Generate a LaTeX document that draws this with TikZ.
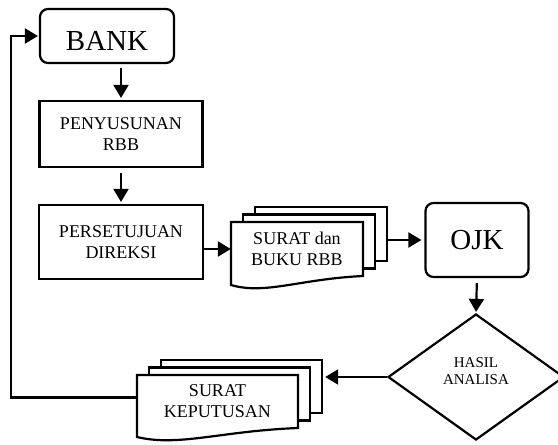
\documentclass[tikz,border=0pt]{standalone}
\usepackage{fontspec}
\setmainfont{Liberation Serif}
\usetikzlibrary{arrows.meta,shapes.geometric}

\tikzset{
    box/.style={draw, black, line width=2.2pt, inner sep=0pt, align=center,
        font=\fontsize{18}{21}\selectfont},
    bigbox/.style={box, rounded corners=8pt, font=\fontsize{29}{34}\selectfont},
    decide/.style={draw, black, line width=2.2pt, shape=diamond, inner sep=0pt,
        align=center, font=\fontsize{15}{17}\selectfont},
    doc/.style={inner sep=0pt, align=center, font=\fontsize{18}{21}\selectfont},
    page/.style={draw, black, fill=white, line width=2.2pt},
    arr/.style={black, line width=2.2pt, -{Triangle[length=13pt,width=15pt]}},
}

% three pages behind a document, centre #1, width #2, height #3
\newcommand{\pagestack}[3]{%
    \foreach \k in {2,1}
        \draw[page] ([shift={(-#2/2+12*\k,-#3/2-7.5*\k)}]#1) rectangle ++(#2,#3);
    \draw[page] ([shift={(-#2/2,-#3/2)}]#1) -- ([shift={(#2/2,-#3/2)}]#1)
        -- ([shift={(#2/2,#3/2)}]#1)
        .. controls ([shift={(0.02*#2,#3/2+3)}]#1) and ([shift={(-0.24*#2,#3/2+19)}]#1)
        .. ([shift={(-#2/2,#3/2+9)}]#1) -- cycle;
}

\begin{document}
\begin{tikzpicture}[x=1pt, y=-1pt]

    \useasboundingbox (0,0) rectangle (558,445);

    % Bank and its first two steps
    \node[bigbox, minimum width=134pt, minimum height=54pt, text height=30pt] (bank) at (107,36) {BANK};
    \node[box, minimum width=163pt, minimum height=66pt] (peny) at (121,134) {PENYUSUNAN\\RBB};
    \node[box, minimum width=164pt, minimum height=74pt] (pers) at (121,242) {PERSETUJUAN\\DIREKSI};

    % Letter and RBB book sent on
    \coordinate (sdbc) at (297,249);
    \pagestack{sdbc}{132}{54}
    \node[doc, minimum width=132pt, minimum height=54pt] (sdb) at (sdbc) {SURAT dan\\BUKU RBB};
    \coordinate (sdbr) at ([xshift=24pt]sdb.east);

    % OJK and its analysis
    \node[bigbox, minimum width=103pt, minimum height=74pt] (ojk) at (477,240) {OJK};
    \node[decide, minimum width=176pt, minimum height=126pt] (hasil) at (476,377) {HASIL\\ANALISA\\[-5pt]\mbox{}};

    % Decision letter back to the bank
    \coordinate (skc) at (217.5,401.5);
    \pagestack{skc}{161}{53}
    \node[doc, minimum width=161pt, minimum height=53pt] (sk) at (skc) {SURAT\\KEPUTUSAN};
    \coordinate (skr) at ([xshift=26pt]sk.east);

    % Arrows
    \draw[arr, shorten <=4pt, shorten >=2pt] (bank.south -| peny.north) -- (peny.north);
    \draw[arr, shorten <=5pt, shorten >=2pt] (peny.south) -- (pers.north);
    \draw[arr] (sdb.west -| pers.east) -- (sdb.west);
    \draw[arr, shorten >=3pt] (sdbr |- ojk.west) -- (ojk.west);
    \draw[arr, shorten <=5pt, shorten >=1pt] (ojk.south) -- (hasil.north);
    \draw[arr, shorten >=1pt] (hasil.west) -- (skr |- hasil.west);
    \draw[arr, shorten >=1pt] ([yshift=4pt]sk.west) -- ++(-126,0) |- (bank.west);

\end{tikzpicture}
\end{document}
